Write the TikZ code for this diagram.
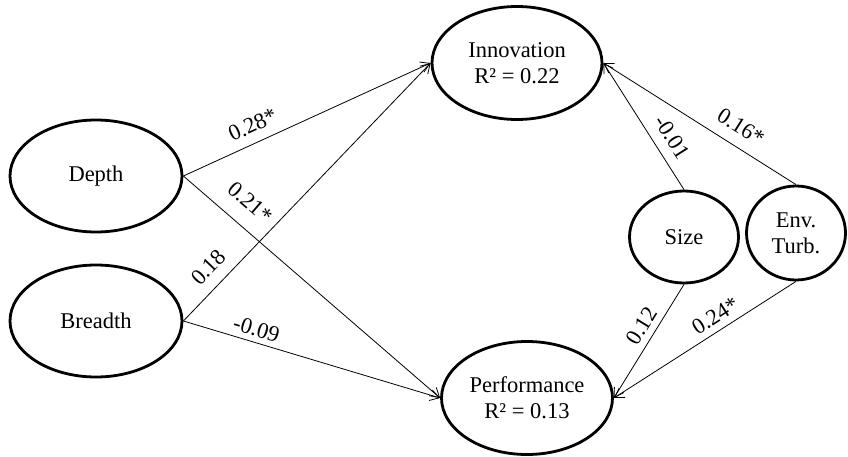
\documentclass[tikz,border=0pt]{standalone}
\usepackage{fontspec}
\setmainfont{Liberation Serif}
\usetikzlibrary{arrows.meta,shapes.geometric}
\newcommand\figfont{\fontsize{22.5}{26}\selectfont}
\begin{document}
\begin{tikzpicture}[x=1pt,y=-1pt,
  latent/.style={ellipse, draw, line width=2.8pt, inner sep=0pt, align=center, font=\figfont},
  pathline/.style={line width=0.8pt, -{Straight Barb[length=9pt,width=11pt,line width=0.8pt]}},
  coef/.style={sloped, font=\figfont, inner sep=0pt}]
\useasboundingbox (0,0) rectangle (848,457);
\node[latent, minimum width=172pt, minimum height=112pt] (depth) at (96,176) {Depth};
\node[latent, minimum width=172pt, minimum height=112pt] (breadth) at (96,321) {Breadth};
\node[latent, minimum width=170pt, minimum height=113pt] (inno) at (517,63) {Innovation\\R² = 0.22};
\node[latent, minimum width=171pt, minimum height=113pt] (perf) at (527,398) {Performance\\R² = 0.13};
\node[latent, minimum width=109pt, minimum height=92pt] (size) at (684,237) {Size};
\node[latent, minimum width=99pt, minimum height=94pt] (env) at (796,233) {Env.\\Turb.};
\draw[pathline] (depth.east) -- node[coef, above=10pt, pos=0.31] {0.28*} (inno.west);
\draw[pathline] (depth.east) -- node[coef, above=15.5pt, pos=0.20] {0.21*} (perf.west);
\draw[pathline] (breadth.east) -- node[coef, above=11pt, pos=0.157] {0.18} (inno.west);
\draw[pathline] (breadth.east) -- node[coef, above=5pt, pos=0.27] {-0.09} (perf.west);
\draw[pathline] (size.north) -- node[coef, above=10pt, pos=0.34] {-0.01} (inno.east);
\draw[pathline] (env.north) -- node[coef, above=11.5pt, pos=0.34] {0.16*} (inno.east);
\draw[pathline] (size.south) -- node[coef, above=6pt, pos=0.43] {0.12} (perf.east);
\draw[pathline] (env.south) -- node[coef, above=6.5pt, pos=0.40] {0.24*} (perf.east);
\end{tikzpicture}
\end{document}
